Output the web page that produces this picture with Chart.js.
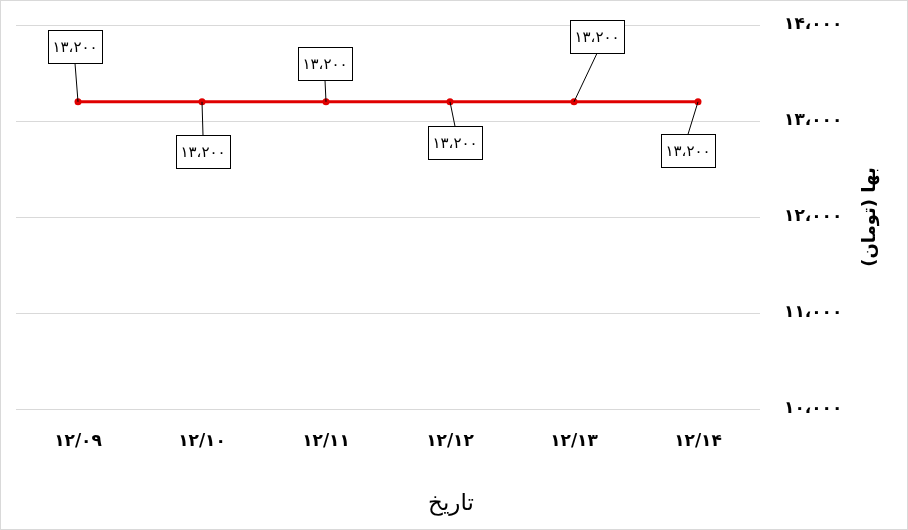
<!DOCTYPE html>
<html>
<head>
<meta charset="utf-8">
<script src="https://cdn.jsdelivr.net/npm/chart.js@4.4.0/dist/chart.umd.min.js"></script>
<style>
  html, body { margin: 0; padding: 0; background: #fff; }
  #wrap { width: 908px; height: 530px; position: relative; box-sizing: border-box; border: 1px solid #d9d9d9; }
</style>
</head>
<body>
<div id="wrap"><canvas id="priceChart"></canvas></div>
<script>
// Chart data
const dates = ["12/09", "12/10", "12/11", "12/12", "12/13", "12/14"];
const prices = [13200, 13200, 13200, 13200, 13200, 13200];
const yTicks = [10000, 11000, 12000, 13000, 14000];

// Label placement (pixel offsets of each label box from its point)
const labelOffsets = [
  [-3, -55], [1, 50], [-1, -38], [5, 41], [23, -65], [-10, 49]
];

const FONT = "'DejaVu Sans', sans-serif";

// Western digits -> Persian digits, "," -> Arabic comma
function toPersian(str) {
  return String(str)
    .replace(/[0-9]/g, (d) => "۰۱۲۳۴۵۶۷۸۹"[d])
    .replace(/,/g, "،");
}

function fmt(n) {
  return toPersian(n.toLocaleString("en-US"));
}

// Boxed data labels with leader lines + axis titles
const labelPlugin = {
  id: "boxLabels",
  afterDatasetsDraw(chart) {
    const ctx = chart.ctx;
    const meta = chart.getDatasetMeta(0);
    ctx.save();
    ctx.font = "15px " + FONT;
    ctx.textAlign = "center";
    ctx.textBaseline = "middle";
    meta.data.forEach((pt, i) => {
      const [dx, dy] = labelOffsets[i];
      const cx = pt.x + dx;
      const cy = pt.y + dy;
      const w = 54, h = 33;
      const edgeY = dy < 0 ? cy + h / 2 : cy - h / 2;
      ctx.strokeStyle = "#000";
      ctx.lineWidth = 1;
      ctx.beginPath();
      ctx.moveTo(pt.x, pt.y);
      ctx.lineTo(cx, edgeY);
      ctx.stroke();
      ctx.fillStyle = "#fff";
      ctx.fillRect(cx - w / 2, cy - h / 2, w, h);
      ctx.strokeRect(Math.round(cx - w / 2) + 0.5, Math.round(cy - h / 2) + 0.5, w, h);
      ctx.fillStyle = "#000";
      ctx.fillText(fmt(prices[i]), cx, cy + 1);
    });
    ctx.restore();
  },
  afterDraw(chart) {
    const ctx = chart.ctx;
    const area = chart.chartArea;
    ctx.save();
    ctx.fillStyle = "#000";
    ctx.textAlign = "center";
    ctx.textBaseline = "middle";
    // x title
    ctx.font = "23px " + FONT;
    ctx.fillText("تاریخ", 450, 503);
    // y title, rotated counter-clockwise
    ctx.translate(869, (area.top + area.bottom) / 2);
    ctx.rotate(-Math.PI / 2);
    ctx.font = "bold 18px " + FONT;
    ctx.fillText("بها (تومان)", 0, 0);
    ctx.restore();
  },
};

function initPriceChart() {
  const canvas = document.getElementById("priceChart");

  const config = {
    type: "line",
    data: {
      labels: dates.map(toPersian),
      datasets: [
        {
          data: prices,
          borderColor: "#e00000",
          backgroundColor: "#e00000",
          borderWidth: 3,
          pointRadius: 3.5,
          pointBackgroundColor: "#e00000",
          pointBorderWidth: 0,
          tension: 0,
        },
      ],
    },
    options: {
      responsive: false,
      animation: false,
      layout: { padding: { left: 15, top: 24, right: 0, bottom: 0 } },
      plugins: {
        legend: { display: false },
        tooltip: { enabled: false },
      },
      scales: {
        x: {
          offset: true,
          grid: { display: false, drawTicks: false, offset: true },
          border: { display: false },
          ticks: {
            padding: 22,
            color: "#000",
            font: { size: 17, weight: "bold", family: FONT },
            maxRotation: 0,
          },
          afterFit(scale) {
            scale.height = 120;
            scale.paddingLeft = 0;
            scale.paddingRight = 0;
          },
        },
        y: {
          position: "right",
          min: 10000,
          max: 14000,
          afterBuildTicks(scale) {
            scale.ticks = yTicks.map((v) => ({ value: v }));
          },
          grid: { color: "#d9d9d9", drawTicks: false, lineWidth: 1 },
          border: { display: false },
          ticks: {
            padding: 24,
            color: "#000",
            font: { size: 17, weight: "bold", family: FONT },
            callback: (v) => fmt(v),
          },
          afterFit(scale) {
            scale.width = 147;
            scale.paddingTop = 0;
            scale.paddingBottom = 0;
          },
        },
      },
    },
    plugins: [labelPlugin],
  };

  return new Chart(canvas, config);
}

document.getElementById("priceChart").width = 906;
document.getElementById("priceChart").height = 528;
initPriceChart();
</script>
</body>
</html>
